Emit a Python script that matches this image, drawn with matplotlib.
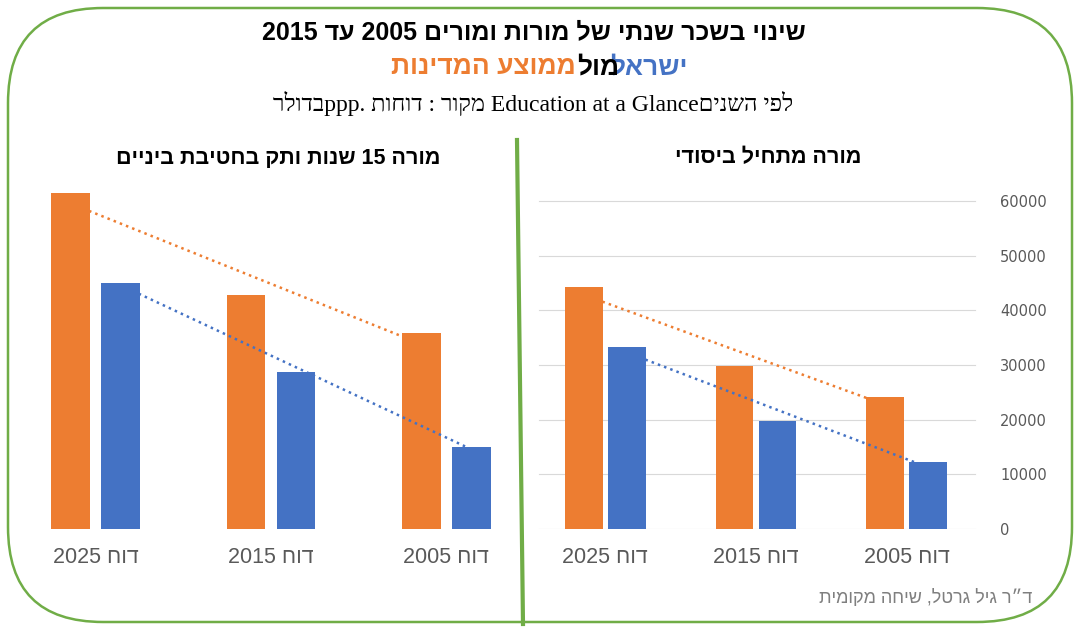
import re
import numpy as np
import matplotlib.pyplot as plt
from matplotlib.patches import FancyBboxPatch
from matplotlib.lines import Line2D
import matplotlib.transforms as mtransforms

# ------------------------- Data -------------------------
categories = ["דוח 2025", "דוח 2015", "דוח 2005"]
mid_oecd = [61500, 42700, 35800]
mid_israel = [45000, 28700, 15000]
start_oecd = [44300, 29800, 24200]
start_israel = [33300, 19700, 12300]
yticks = [0, 10000, 20000, 30000, 40000, 50000, 60000]

ORANGE = "#ED7D31"
BLUE = "#4472C4"
GREEN = "#70AD47"
GRAY = "#595959"

SANS = ["Liberation Sans", "DejaVu Sans"]
SERIF = ["Liberation Serif", "DejaVu Serif"]

LTR = r"[A-Za-z0-9.]+(?: [A-Za-z0-9.]+)*"


def vis(s, rtl=True):
    # crude bidi: keep latin/digit runs left-to-right, flip hebrew runs
    parts = re.split("(" + LTR + ")", s)
    if rtl:
        parts = parts[::-1]
    out = []
    for p in parts:
        if p and re.fullmatch(LTR, p):
            out.append(p)
        else:
            out.append(p[::-1])
    return "".join(out)


W, H = 1080, 630
fig = plt.figure(figsize=(W / 100, H / 100), dpi=100)


def px(x, y):
    return x / W, 1 - y / H


def add_ax(left, right, top=179, bottom=529):
    return fig.add_axes([left / W, 1 - bottom / H, (right - left) / W, (bottom - top) / H])


def panel(ax, oecd, isr, off, width, grid):
    x = np.arange(len(categories))
    ax.bar(x - off, oecd, width, color=ORANGE, zorder=3)
    ax.bar(x + off, isr, width, color=BLUE, zorder=3)
    for vals, col, sh in ((oecd, ORANGE, -off), (isr, BLUE, off)):
        k, b = np.polyfit(x, vals, 1)
        ax.plot(x + sh, k * x + b, ":", color=col, lw=1.8, zorder=4)
    ax.set_xlim(-0.5, 2.5)
    ax.set_ylim(0, 64000)
    ax.set_xticks(x)
    ax.set_xticklabels([vis(c) for c in categories], fontsize=15.5, color=GRAY, family=SANS)
    ax.tick_params(axis="x", length=0, pad=13)
    ax.patch.set_alpha(0)
    for s in ax.spines.values():
        s.set_visible(False)
    if grid:
        for t in yticks:
            ax.axhline(t, xmin=0.02, xmax=0.985, color="#D9D9D9", lw=0.8, zorder=1)


ax1 = add_ax(8, 534)
panel(ax1, mid_oecd, mid_israel, 0.143, 0.22, False)
ax1.set_yticks([])

ax2 = add_ax(530, 982)
panel(ax2, start_oecd, start_israel, 0.143, 0.25, True)
ax2.yaxis.tick_right()
ax2.set_yticks(yticks)
ax2.set_yticklabels([str(t) for t in yticks], fontsize=10.5, color=GRAY)
ax2.tick_params(axis="y", length=0, pad=13)

# border and divider
border = FancyBboxPatch((8, 8), W - 16, H - 16,
                        boxstyle="round,pad=0,rounding_size=95",
                        transform=mtransforms.IdentityTransform(),
                        fill=False, ec=GREEN, lw=1.8)
fig.patches.append(border)
fig.lines.append(Line2D([517 / W, 523 / W], [1 - 140 / H, 1 - 624 / H],
                        transform=fig.transFigure, color=GREEN, lw=3))

# titles
fig.text(*px(534, 32), vis("שינוי בשכר שנתי של מורות ומורים 2005 עד 2015"),
         ha="center", va="center", fontsize=18, weight="bold", family=SANS)
fig.text(*px(688, 67), vis("ישראל"), ha="right", va="center", fontsize=19,
         weight="bold", color=BLUE, family=SANS)
fig.text(*px(619, 67), vis("מול"), ha="right", va="center", fontsize=19,
         weight="bold", color="black", family=SANS)
fig.text(*px(576, 67), vis("ממוצע המדינות"), ha="right", va="center", fontsize=19,
         weight="bold", color=ORANGE, family=SANS)
fig.text(*px(533, 103), vis("בדולר ppp. מקור : דוחות Education at a Glance לפי השנים", rtl=False),
         ha="center", va="center", fontsize=17, family=SERIF)
fig.text(*px(278, 158), vis("מורה 15 שנות ותק בחטיבת ביניים"),
         ha="center", va="center", fontsize=15.5, weight="bold", family=SANS)
fig.text(*px(768, 158), vis("מורה מתחיל ביסודי"),
         ha="center", va="center", fontsize=15.5, weight="bold", family=SANS)
fig.text(*px(1032, 598), vis("ד״ר גיל גרטל, שיחה מקומית"),
         ha="right", va="center", fontsize=13, color="#7F7F7F", family=SANS)

fig.savefig("out.png", dpi=100)
